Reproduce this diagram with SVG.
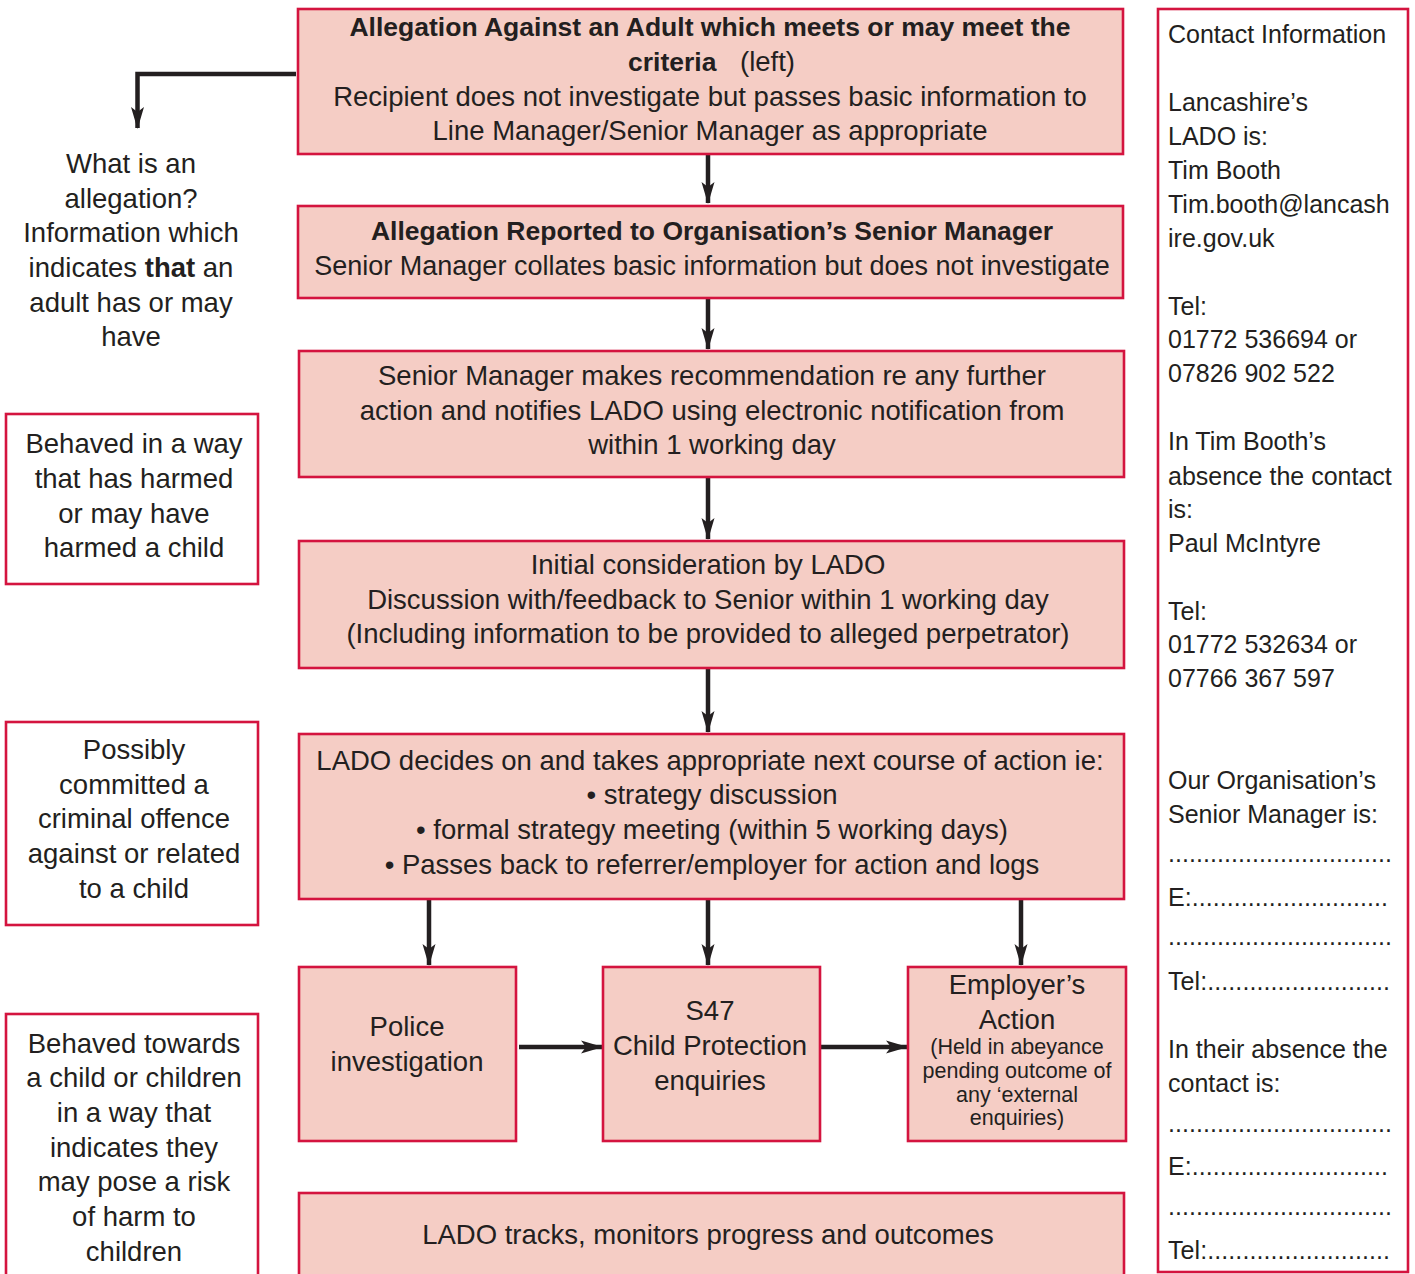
<svg xmlns="http://www.w3.org/2000/svg" width="1415" height="1274" viewBox="0 0 1415 1274">
<defs>
<style>
.box{fill:#f5cdc5;stroke:#d4143f;stroke-width:2.6}
.wbox{fill:#ffffff;stroke:#d4143f;stroke-width:2.6}
text{font-family:"Liberation Sans",Arial,Helvetica,sans-serif;fill:#231f20}
.m{font-size:27.5px;text-anchor:middle}
.b{font-weight:bold;font-size:26.5px}
.c{font-size:25px}
.s{font-size:21.5px;text-anchor:middle}
.conn{fill:none;stroke:#231f20;stroke-width:4.5}
</style>
<marker id="ah" viewBox="0 0 22 14" refX="21" refY="7" markerWidth="22" markerHeight="14" markerUnits="userSpaceOnUse" orient="auto">
<path d="M0,0.5 L22,7 L0,13.5 L5,7 Z" fill="#231f20"/>
</marker>
</defs>
<rect width="1415" height="1274" fill="#ffffff"/>

<g id="connectors">
<path class="conn" d="M296,74 H137.5 V128" marker-end="url(#ah)"/>
<path class="conn" d="M708,154 V203" marker-end="url(#ah)"/>
<path class="conn" d="M708,298 V349" marker-end="url(#ah)"/>
<path class="conn" d="M708,477 V539" marker-end="url(#ah)"/>
<path class="conn" d="M708,668 V732" marker-end="url(#ah)"/>
<path class="conn" d="M429,899 V965" marker-end="url(#ah)"/>
<path class="conn" d="M708,899 V965" marker-end="url(#ah)"/>
<path class="conn" d="M1021,899 V965" marker-end="url(#ah)"/>
<path class="conn" d="M519,1047 H602" marker-end="url(#ah)"/>
<path class="conn" d="M820,1047 H907" marker-end="url(#ah)"/>
</g>

<g id="n1">
<rect class="box" x="298" y="9" width="825" height="145"/>
<text class="m b" x="710" y="36">Allegation Against an Adult which meets or may meet the</text>
<text x="628" y="71" style="font-size:27.5px"><tspan font-weight="bold" style="font-size:26.5px">criteria</tspan><tspan x="740">(left)</tspan></text>
<text class="m" x="710" y="106">Recipient does not investigate but passes basic information to</text>
<text class="m" x="710" y="140">Line Manager/Senior Manager as appropriate</text>
</g>

<g id="n2">
<rect class="box" x="298" y="206" width="825" height="92"/>
<text class="m b" x="712" y="240">Allegation Reported to Organisation’s Senior Manager</text>
<text class="m" x="712" y="275" style="font-size:27px">Senior Manager collates basic information but does not investigate</text>
</g>

<g id="n3">
<rect class="box" x="299" y="351" width="825" height="126"/>
<text class="m" x="712" y="385">Senior Manager makes recommendation re any further</text>
<text class="m" x="712" y="420">action and notifies LADO using electronic notification from</text>
<text class="m" x="712" y="454">within 1 working day</text>
</g>

<g id="n4">
<rect class="box" x="299" y="541" width="825" height="127"/>
<text class="m" x="708" y="574">Initial consideration by LADO</text>
<text class="m" x="708" y="609">Discussion with/feedback to Senior within 1 working day</text>
<text class="m" x="708" y="643">(Including information to be provided to alleged perpetrator)</text>
</g>

<g id="n5">
<rect class="box" x="299" y="734" width="825" height="165"/>
<text class="m" x="710" y="770">LADO decides on and takes appropriate next course of action ie:</text>
<text class="m" x="712" y="804">• strategy discussion</text>
<text class="m" x="712" y="839">• formal strategy meeting (within 5 working days)</text>
<text class="m" x="712" y="874">• Passes back to referrer/employer for action and logs</text>
</g>

<g id="n6">
<rect class="box" x="299" y="967" width="217" height="174"/>
<text class="m" x="407" y="1036">Police</text>
<text class="m" x="407" y="1071">investigation</text>
</g>

<g id="n7">
<rect class="box" x="603" y="967" width="217" height="174"/>
<text class="m" x="710" y="1020">S47</text>
<text class="m" x="710" y="1055">Child Protection</text>
<text class="m" x="710" y="1090">enquiries</text>
</g>

<g id="n8">
<rect class="box" x="908" y="967" width="218" height="174"/>
<text class="m" x="1017" y="994">Employer’s</text>
<text class="m" x="1017" y="1029">Action</text>
<text class="s" x="1017" y="1053.5">(Held in abeyance</text>
<text class="s" x="1017" y="1077.5">pending outcome of</text>
<text class="s" x="1017" y="1101.5">any ‘external</text>
<text class="s" x="1017" y="1124.5">enquiries)</text>
</g>

<g id="n9">
<rect class="box" x="299" y="1193" width="825" height="100"/>
<text class="m" x="708" y="1244">LADO tracks, monitors progress and outcomes</text>
</g>

<g id="what">
<text class="m" x="131" y="173">What is an</text>
<text class="m" x="131" y="208">allegation?</text>
<text class="m" x="131" y="242">Information which</text>
<text class="m" x="131" y="277">indicates <tspan font-weight="bold">that</tspan> an</text>
<text class="m" x="131" y="312">adult has or may</text>
<text class="m" x="131" y="346">have</text>
</g>

<g id="la">
<rect class="wbox" x="6" y="414" width="252" height="170"/>
<text class="m" x="134" y="453">Behaved in a way</text>
<text class="m" x="134" y="488">that has harmed</text>
<text class="m" x="134" y="523">or may have</text>
<text class="m" x="134" y="557">harmed a child</text>
</g>

<g id="lb">
<rect class="wbox" x="6" y="722" width="252" height="203"/>
<text class="m" x="134" y="759">Possibly</text>
<text class="m" x="134" y="794">committed a</text>
<text class="m" x="134" y="828">criminal offence</text>
<text class="m" x="134" y="863">against or related</text>
<text class="m" x="134" y="898">to a child</text>
</g>

<g id="lc">
<rect class="wbox" x="6" y="1014" width="252" height="290"/>
<text class="m" x="134" y="1053">Behaved towards</text>
<text class="m" x="134" y="1087">a child or children</text>
<text class="m" x="134" y="1122">in a way that</text>
<text class="m" x="134" y="1157">indicates they</text>
<text class="m" x="134" y="1191">may pose a risk</text>
<text class="m" x="134" y="1226">of harm to</text>
<text class="m" x="134" y="1261">children</text>
</g>

<g id="contact">
<rect class="wbox" x="1158" y="9" width="250" height="1263"/>
<text class="c" x="1168" y="43">Contact Information</text>
<text class="c" x="1168" y="111">Lancashire’s</text>
<text class="c" x="1168" y="145">LADO is:</text>
<text class="c" x="1168" y="179">Tim Booth</text>
<text class="c" x="1168" y="213">Tim.booth@lancash</text>
<text class="c" x="1168" y="247">ire.gov.uk</text>
<text class="c" x="1168" y="315">Tel:</text>
<text class="c" x="1168" y="348">01772 536694 or</text>
<text class="c" x="1168" y="382">07826 902 522</text>
<text class="c" x="1168" y="450">In Tim Booth’s</text>
<text class="c" x="1168" y="485">absence the contact</text>
<text class="c" x="1168" y="518">is:</text>
<text class="c" x="1168" y="552">Paul McIntyre</text>
<text class="c" x="1168" y="620">Tel:</text>
<text class="c" x="1168" y="653">01772 532634 or</text>
<text class="c" x="1168" y="687">07766 367 597</text>
<text class="c" x="1168" y="789">Our Organisation’s</text>
<text class="c" x="1168" y="823">Senior Manager is:</text>
<text class="c" x="1168" y="862" textLength="224" lengthAdjust="spacing">................................</text>
<text class="c" x="1168" y="906" textLength="220" lengthAdjust="spacing">E:............................</text>
<text class="c" x="1168" y="945" textLength="224" lengthAdjust="spacing">................................</text>
<text class="c" x="1168" y="990" textLength="222" lengthAdjust="spacing">Tel:..........................</text>
<text class="c" x="1168" y="1058">In their absence the</text>
<text class="c" x="1168" y="1092">contact is:</text>
<text class="c" x="1168" y="1132" textLength="224" lengthAdjust="spacing">................................</text>
<text class="c" x="1168" y="1175" textLength="220" lengthAdjust="spacing">E:............................</text>
<text class="c" x="1168" y="1215" textLength="224" lengthAdjust="spacing">................................</text>
<text class="c" x="1168" y="1259" textLength="222" lengthAdjust="spacing">Tel:..........................</text>
</g>
</svg>
